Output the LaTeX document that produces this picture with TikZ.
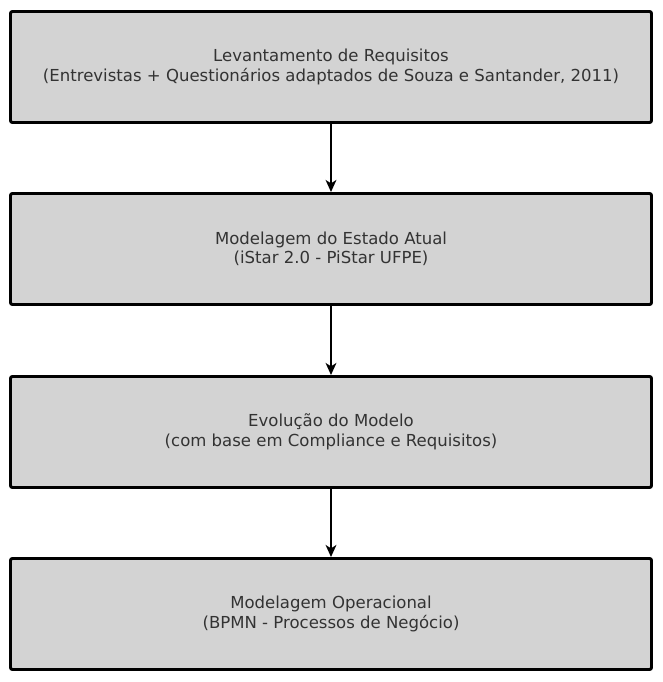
\documentclass[tikz,border=0pt]{standalone}
\usepackage{fontspec}
\setmainfont{DejaVu Sans}
\usetikzlibrary{arrows.meta}
\definecolor{boxfill}{HTML}{D3D3D3}
\definecolor{txt}{HTML}{333333}
\begin{document}
\begin{tikzpicture}[x=0.75pt,y=-0.75pt,
  stagebox/.style={draw=black, fill=boxfill, line width=2.2pt, rounded corners=1.5pt,
    minimum width=641*0.75pt, minimum height=111*0.75pt, inner sep=0pt,
    align=center, text=txt, font=\fontsize{12.4pt}{14.6pt}\selectfont},
  flow/.style={line width=2.2pt, -{Stealth[length=9pt,width=8pt,inset=2.5pt]}}]
\useasboundingbox (0,0) rectangle (663,682);
\node[stagebox] (a) at (331,67) {Levantamento de Requisitos\\(Entrevistas + Questionários adaptados de Souza e Santander, 2011)};
\node[stagebox] (b) at (331,249) {Modelagem do Estado Atual\\(iStar 2.0 - PiStar UFPE)};
\node[stagebox] (c) at (331,432) {Evolução do Modelo\\(com base em Compliance e Requisitos)};
\node[stagebox] (d) at (331,614) {Modelagem Operacional\\(BPMN - Processos de Negócio)};
\draw[flow] (a.south) -- (b.north);
\draw[flow] (b.south) -- (c.north);
\draw[flow] (c.south) -- (d.north);
\end{tikzpicture}
\end{document}
